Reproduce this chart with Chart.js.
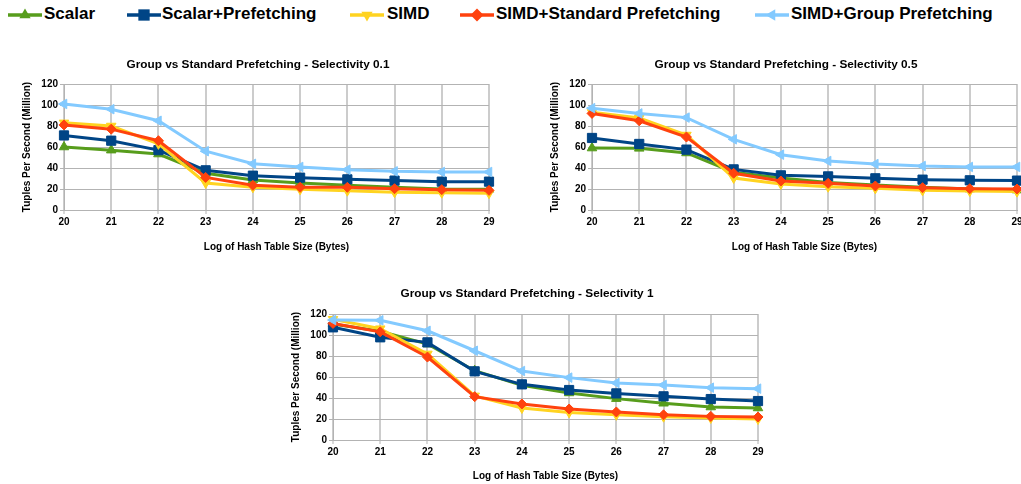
<!DOCTYPE html>
<html>
<head>
<meta charset="utf-8">
<script src="https://cdn.jsdelivr.net/npm/chart.js@4/dist/chart.umd.min.js"></script>
<style>
  html, body { margin: 0; padding: 0; background: #fff; width: 1021px; height: 484px; overflow: hidden; position: relative; }
  body { font-family: "Liberation Sans", Arial, sans-serif; }
  .lg-mark { position: absolute; top: 7px; }
  .lg-text { position: absolute; top: 3px; font: bold 17px "Liberation Sans", Arial, sans-serif; color: #000; line-height: 22px; white-space: nowrap; }
  canvas.plot { position: absolute; }
</style>
</head>
<body>
<div id="legend"></div>
<canvas id="c01" class="plot" width="516" height="205" style="left:0px;top:50px"></canvas>
<canvas id="c05" class="plot" width="516" height="205" style="left:528px;top:50px"></canvas>
<canvas id="c1" class="plot" width="516" height="205" style="left:269px;top:279px"></canvas>
<script>
// Hash table sizes (log2 bytes) on the x axis
const sizes = ['20', '21', '22', '23', '24', '25', '26', '27', '28', '29'];
const seriesNames = ['Scalar', 'Scalar+Prefetching', 'SIMD', 'SIMD+Standard Prefetching', 'SIMD+Group Prefetching'];
const yTickValues = [0, 20, 40, 60, 80, 100, 120];

// Selectivity 0.1 (million tuples per second)
const scalar01   = [60, 57, 53.3, 35, 28.6, 25.7, 23.5, 21.6, 20, 19.7];
const scalarPf01 = [71, 66, 57, 37.8, 32.7, 30.8, 29.2, 28, 27, 27];
const simd01     = [83, 80, 63, 25.7, 21.6, 19.7, 18.4, 17, 16.5, 16];
const simdStd01  = [81, 77, 66, 31, 23.5, 21.6, 21.6, 20.3, 19.4, 18.7];
const simdGrp01  = [101, 96, 85, 56, 44, 41, 38.4, 36.8, 36.2, 36.2];

// Selectivity 0.5
const scalar05   = [59, 58.7, 54.3, 36, 30.5, 26.3, 23.8, 21.6, 20, 19];
const scalarPf05 = [68.6, 62.9, 57.5, 38.7, 33, 32, 30.2, 28.9, 28.3, 28];
const simd05     = [93, 87.6, 71.4, 30.5, 24.8, 22.2, 20.6, 18.7, 18, 17.5];
const simdStd05  = [92, 85, 69.5, 35, 27.6, 25.4, 22.9, 21.3, 20.3, 20];
const simdGrp05  = [97, 92, 88, 67.3, 52.7, 46.7, 43.8, 41.9, 41, 41];

// Selectivity 1
const scalar1    = [110.5, 103.5, 91.4, 66, 52, 44.8, 39.4, 35, 31.4, 30.5];
const scalarPf1  = [107.3, 97.8, 93, 65.4, 53, 47.6, 44.4, 41.6, 39, 37.1];
const simd1      = [115, 106, 82, 42, 30.5, 26.3, 24, 22.2, 21, 20];
const simdStd1   = [111, 103, 79, 41.3, 34.3, 29.5, 26.7, 24, 22.5, 21.9];
const simdGrp1   = [114.3, 114, 104, 85, 65.7, 59.4, 54.3, 52.4, 49.8, 48.9];

// Series appearance: colour, marker shape, marker rotation, marker radius
const seriesStyles = [
  { color: '#579d1c', point: 'triangle', rot: 0,   r: 5.5 },
  { color: '#004586', point: 'rect',     rot: 0,   r: 6.5 },
  { color: '#ffd320', point: 'triangle', rot: 180, r: 5.5 },
  { color: '#ff420e', point: 'rectRot',  rot: 0,   r: 5 },
  { color: '#83caff', point: 'triangle', rot: 270, r: 5.5 }
];

const FONT = '"Liberation Sans", Arial, sans-serif';

// ---- legend row ----
const legendPos = [
  { line: 8,   text: 44 },
  { line: 127, text: 162 },
  { line: 350, text: 387 },
  { line: 460, text: 496 },
  { line: 755, text: 791 }
];

function drawMarker(ctx, st, x, y, r) {
  ctx.beginPath();
  if (st.point === 'rect') {
    const s = r * Math.SQRT1_2;
    ctx.rect(x - s, y - s, 2 * s, 2 * s);
  } else if (st.point === 'rectRot') {
    ctx.moveTo(x, y - r); ctx.lineTo(x + r, y); ctx.lineTo(x, y + r); ctx.lineTo(x - r, y);
    ctx.closePath();
  } else {
    let a = st.rot * Math.PI / 180;
    for (let i = 0; i < 3; i++) {
      const px = x + Math.sin(a) * r, py = y - Math.cos(a) * r;
      if (i === 0) ctx.moveTo(px, py); else ctx.lineTo(px, py);
      a += 2 * Math.PI / 3;
    }
    ctx.closePath();
  }
  ctx.fill();
}

const legendEl = document.getElementById('legend');
seriesNames.forEach((name, i) => {
  const st = seriesStyles[i];
  const cv = document.createElement('canvas');
  cv.width = 34; cv.height = 16;
  cv.className = 'lg-mark';
  cv.style.left = legendPos[i].line + 'px';
  legendEl.appendChild(cv);
  const ctx = cv.getContext('2d');
  ctx.strokeStyle = st.color; ctx.fillStyle = st.color; ctx.lineWidth = 3.5;
  ctx.beginPath(); ctx.moveTo(0, 8); ctx.lineTo(34, 8); ctx.stroke();
  drawMarker(ctx, st, 17, 8, st.point === 'rect' ? 8 : 6.5);
  const sp = document.createElement('span');
  sp.className = 'lg-text';
  sp.style.left = legendPos[i].text + 'px';
  sp.textContent = name;
  legendEl.appendChild(sp);
});

// ---- charts ----
function makeChart(id, title, seriesData, plotTop, plotBottom) {
  const H = 205;
  const titleSize = 11.8;
  const titleLine = titleSize * 1.2;
  return new Chart(document.getElementById(id), {
    type: 'line',
    data: {
      labels: sizes,
      datasets: seriesData.map((vals, i) => ({
        label: seriesNames[i],
        data: vals,
        borderColor: seriesStyles[i].color,
        backgroundColor: seriesStyles[i].color,
        borderWidth: 3,
        pointStyle: seriesStyles[i].point,
        rotation: seriesStyles[i].rot,
        pointRadius: seriesStyles[i].r,
        pointBorderWidth: 1,
        tension: 0,
        fill: false,
        order: seriesNames.length - i
      }))
    },
    options: {
      responsive: false,
      animation: false,
      devicePixelRatio: 1,
      layout: { padding: 0 },
      plugins: {
        legend: { display: false },
        tooltip: { enabled: false },
        title: {
          display: true,
          text: title,
          color: '#000',
          font: { family: FONT, size: titleSize, weight: 'bold' },
          padding: { top: 8, bottom: plotTop - 8 - titleLine }
        }
      },
      scales: {
        x: {
          type: 'category',
          offset: false,
          grid: { display: true, color: '#cccccc', lineWidth: 2, tickLength: 4, drawTicks: true, tickColor: '#b3b3b3', tickWidth: 1 },
          border: { display: true, color: '#b3b3b3', width: 1 },
          ticks: { color: '#000', font: { family: FONT, size: 10, weight: 'bold' }, padding: 2, maxRotation: 0, autoSkip: false },
          title: {
            display: true,
            text: 'Log of Hash Table Size (Bytes)',
            color: '#000',
            font: { family: FONT, size: 10, weight: 'bold' },
            padding: { top: 0, bottom: 2 }
          },
          afterFit(s) { s.height = H - plotBottom; }
        },
        y: {
          type: 'linear',
          min: 0,
          max: 120,
          afterBuildTicks(s) { s.ticks = yTickValues.map(v => ({ value: v })); },
          grid: { color: '#b3b3b3', lineWidth: 1, tickLength: 4, drawTicks: true },
          border: { display: true, color: '#b3b3b3', width: 1 },
          ticks: { color: '#000', font: { family: FONT, size: 10, weight: 'bold' }, padding: 2 },
          title: {
            display: true,
            text: 'Tuples Per Second (Million)',
            color: '#000',
            font: { family: FONT, size: 10, weight: 'bold' },
            padding: { top: 21, bottom: 0 }
          },
          afterFit(s) { s.width = 64; }
        },
        rightGap: {
          type: 'linear',
          position: 'right',
          display: true,
          grid: { display: false, drawTicks: false },
          border: { display: false },
          ticks: { display: false },
          afterFit(s) { s.width = 27; }
        }
      }
    }
  });
}

makeChart('c01', 'Group vs Standard Prefetching - Selectivity 0.1',
  [scalar01, scalarPf01, simd01, simdStd01, simdGrp01], 34, 160);
makeChart('c05', 'Group vs Standard Prefetching - Selectivity 0.5',
  [scalar05, scalarPf05, simd05, simdStd05, simdGrp05], 34, 160);
makeChart('c1', 'Group vs Standard Prefetching - Selectivity 1',
  [scalar1, scalarPf1, simd1, simdStd1, simdGrp1], 35, 161);
</script>
</body>
</html>
